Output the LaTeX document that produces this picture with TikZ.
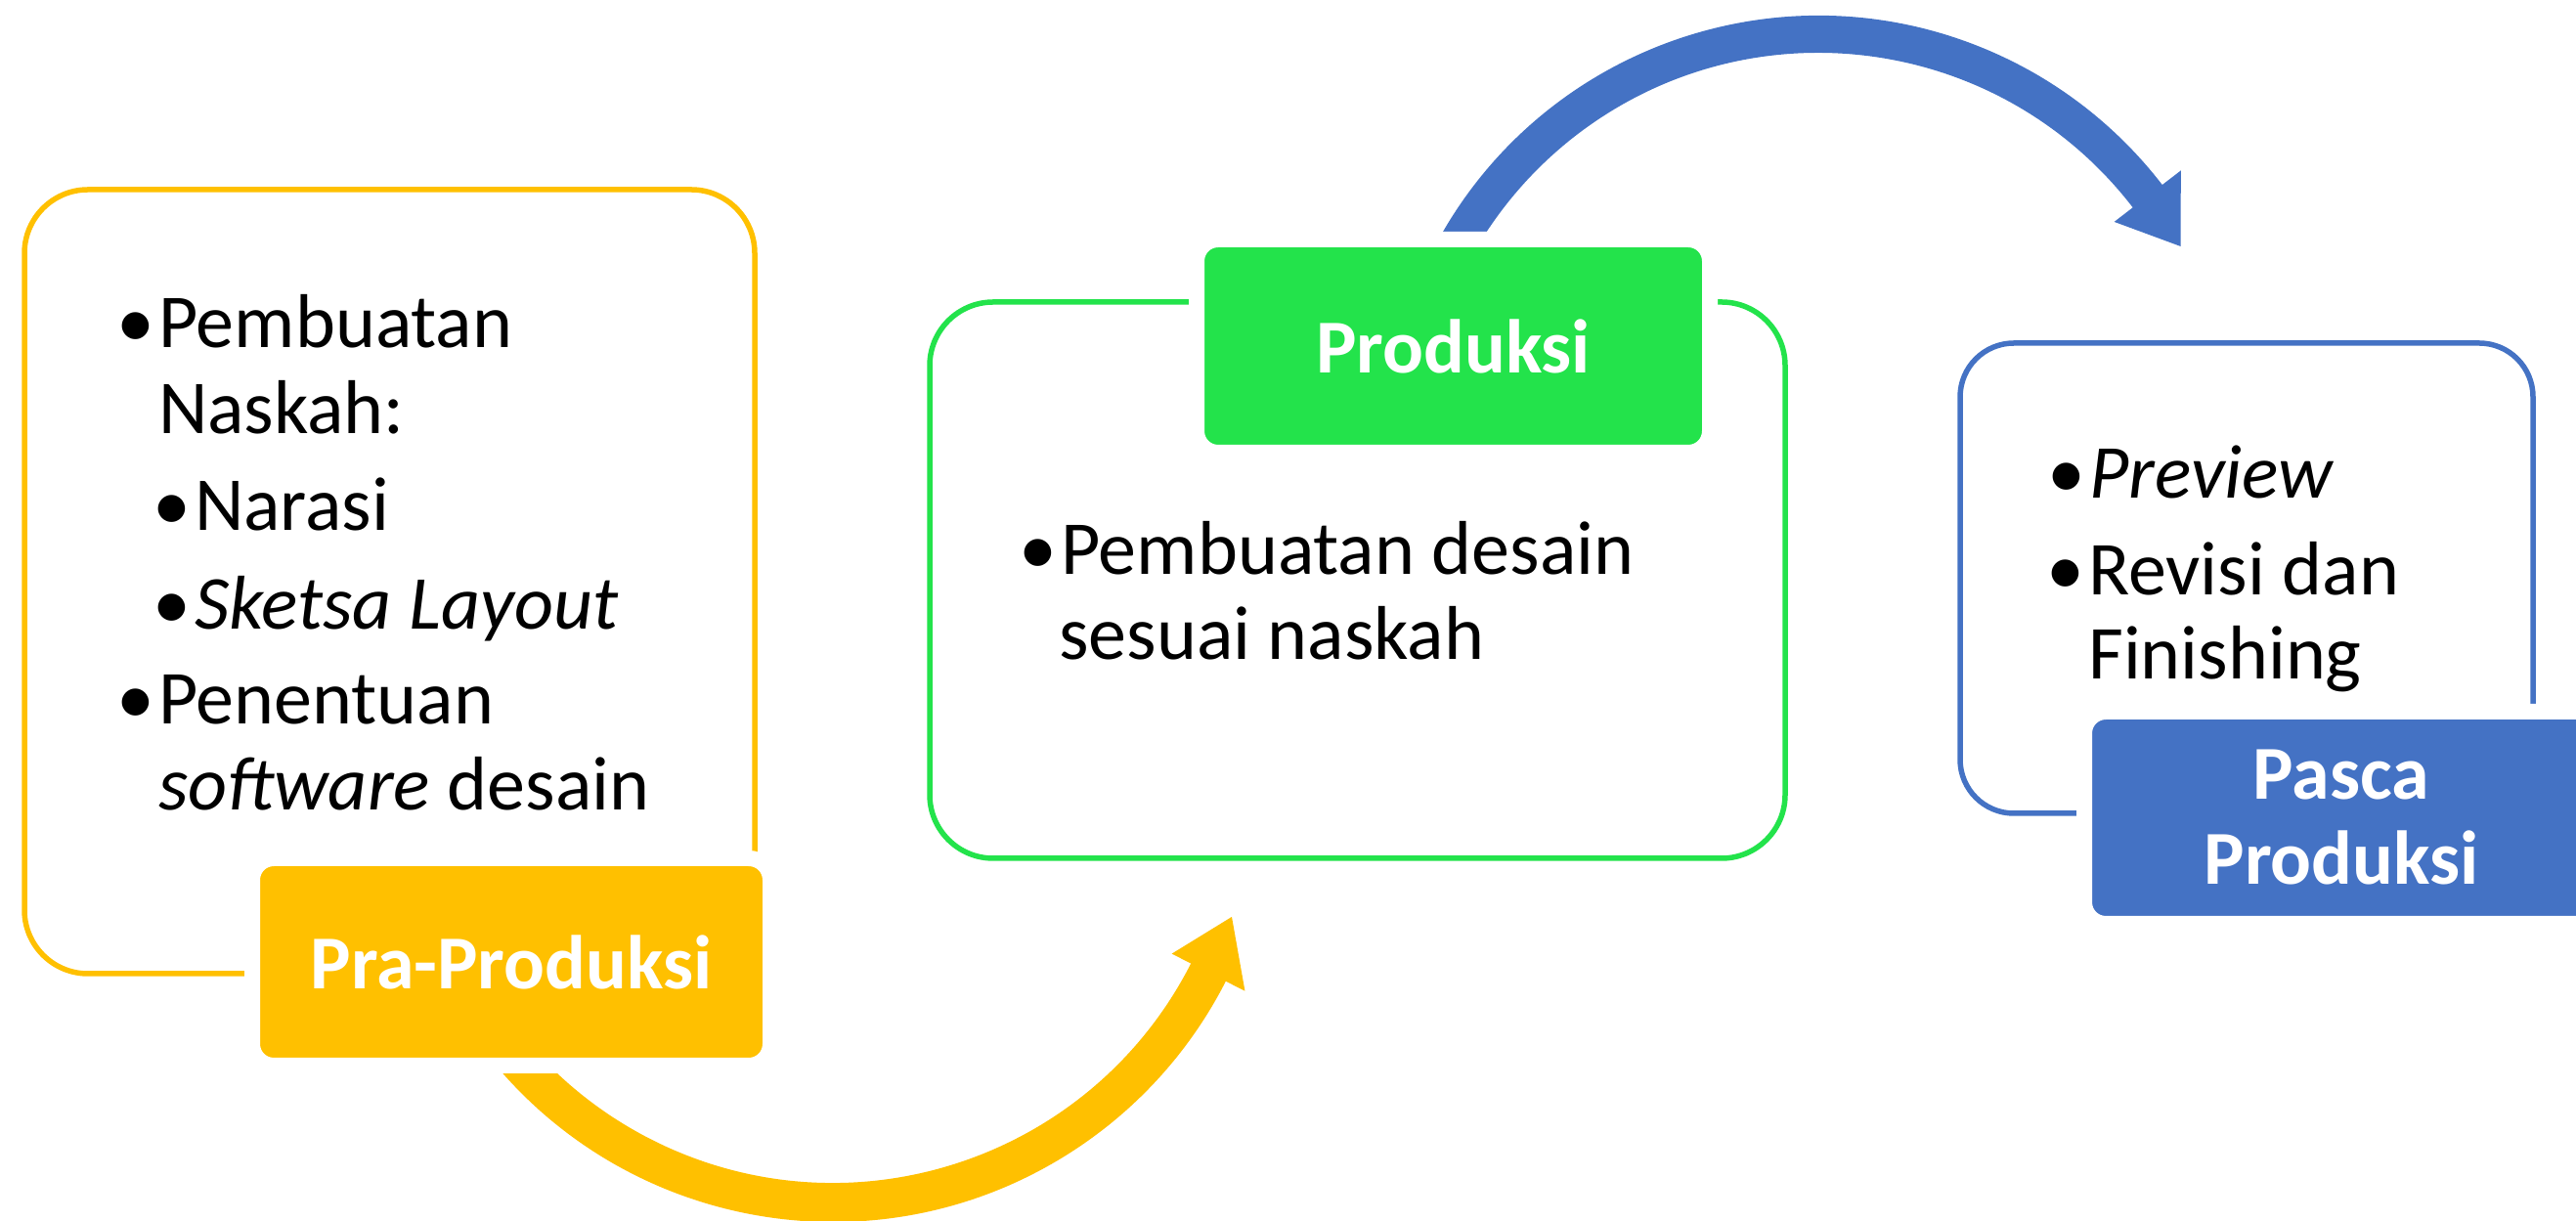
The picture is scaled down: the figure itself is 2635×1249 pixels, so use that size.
\documentclass[tikz,border=0pt]{standalone}
\usepackage{fontspec}
\setmainfont{Carlito}
\definecolor{cyel}{HTML}{FFC000}
\definecolor{cgrn}{HTML}{23E34B}
\definecolor{cblu}{HTML}{4472C4}
\newcommand{\bul}{\llap{\makebox[24pt][c]{\textbullet}\hspace{11pt}}}
\begin{document}
\begin{tikzpicture}[x=1pt,y=1pt,
  outline/.style={draw, line width=5.5pt, inner sep=0pt, rounded corners=65pt},
  lbl/.style={draw=white, line width=16pt, rounded corners=22pt, text=white,
    font=\fontsize{78pt}{87pt}\selectfont\bfseries, align=center, inner sep=0pt},
  txt/.style={anchor=base west, inner sep=0pt, font=\fontsize{78pt}{88pt}\selectfont, text=black},
]
\useasboundingbox (0,0) rectangle (2635,1249);
\fill[white] (0,0) rectangle (2635,1249);

% outline boxes
\node[outline, cyel, minimum width=747pt, minimum height=802pt] (ybox) at (398.5,654) {};
\node[outline, cgrn, minimum width=875pt, minimum height=569pt] (gbox) at (1388.5,655.5) {};
\node[outline, cblu, minimum width=586pt, minimum height=481pt, rounded corners=55pt] (bbox) at (2298,657.5) {};

% curved arrows
\coordinate (yc) at (852,450);
\coordinate (bc) at (1860,789);
\fill[cyel, shift={(yc)}] (215:451) arc[start angle=215, end angle=333, radius=451]
  -- (333:473) -- (341.2:431) -- (333:389) -- (333:411)
  arc[start angle=333, end angle=215, radius=411] -- cycle;
\fill[cblu, shift={(bc)}] (155:444) arc[start angle=155, end angle=37.6, radius=444]
  -- (37.6:468) -- (29.3:425) -- (37.6:382) -- (37.6:406)
  arc[start angle=37.6, end angle=155, radius=406] -- cycle;

% labels
\node[lbl, fill=cyel, minimum width=530pt, minimum height=212pt] (ylab) at (523,265) {Pra-Produksi};
\node[lbl, fill=cgrn, minimum width=525pt, minimum height=218pt] (glab) at (1486.5,895) {Produksi};
\node[lbl, fill=cblu, minimum width=526pt, minimum height=217pt] (blab) at (2395,412.5) {Pasca\\Produksi};

% texts
\node[txt] (y1) at (162,893) {\bul Pembuatan};
\node[txt] (y2) at (162,805) {Naskah:};
\node[txt] (y3) at (199,706) {\bul Narasi};
\node[txt] (y4) at (199,605) {\bul\textit{Sketsa Layout}};
\node[txt] (y5) at (162,508) {\bul Penentuan};
\node[txt] (y6) at (162,420) {\textit{software} desain};

\node[txt] (g1) at (1085,661) {\bul Pembuatan desain};
\node[txt] (g2) at (1083,574) {sesuai naskah};

\node[txt] (b1) at (2137,739) {\bul\textit{Preview}};
\node[txt] (b2) at (2136,640) {\bul Revisi dan};
\node[txt] (b3) at (2136,554) {Finishing};
\end{tikzpicture}
\end{document}
